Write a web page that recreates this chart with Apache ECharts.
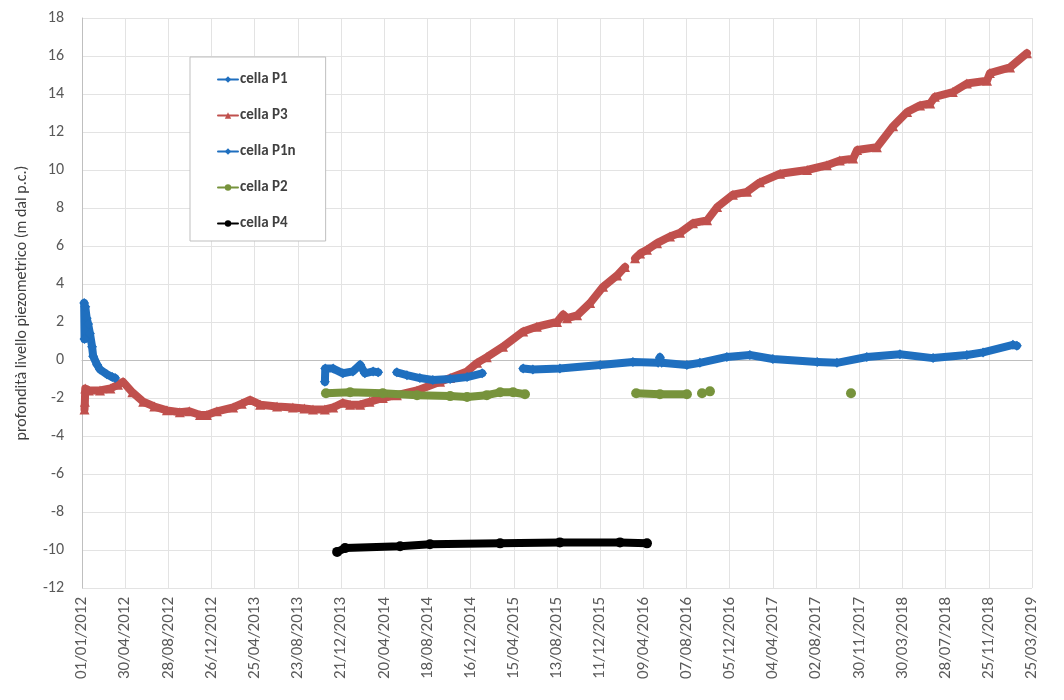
<!DOCTYPE html>
<html>
<head>
<meta charset="utf-8">
<script src="https://cdn.jsdelivr.net/npm/echarts@6/dist/echarts.min.js"></script>
<style>
html,body{margin:0;padding:0;background:#fff;}
#chart{width:1064px;height:700px;}
</style>
</head>
<body>
<div id="chart"></div>
<script>
// ---- data (date, value) ----
const seriesNames = ["cella P1", "cella P3", "cella P1n", "cella P2", "cella P4"];

const cellaP1 = [
  ["2012-01-07", 3.0], ["2012-01-08", 1.1], ["2012-01-10", 2.8], ["2012-01-14", 2.2],
  ["2012-01-18", 1.9], ["2012-01-23", 1.4], ["2012-01-29", 0.7], ["2012-02-01", 0.2],
  ["2012-02-12", -0.25], ["2012-02-20", -0.5], ["2012-03-10", -0.75], ["2012-03-25", -0.9],
  ["2012-04-02", -0.95]
];

const cellaP3 = [
  ["2012-01-08", -2.6], ["2012-01-09", -2.2], ["2012-01-10", -1.5], ["2012-01-20", -1.6],
  ["2012-02-20", -1.6], ["2012-03-20", -1.5], ["2012-04-10", -1.3], ["2012-04-24", -1.15],
  ["2012-05-20", -1.7], ["2012-06-19", -2.2], ["2012-07-20", -2.45], ["2012-08-24", -2.65],
  ["2012-09-29", -2.75], ["2012-10-25", -2.7], ["2012-11-24", -2.9], ["2012-12-13", -2.9],
  ["2013-01-10", -2.7], ["2013-02-24", -2.5], ["2013-03-20", -2.3], ["2013-04-12", -2.1],
  ["2013-05-10", -2.35], ["2013-06-26", -2.45], ["2013-08-09", -2.5], ["2013-09-10", -2.55],
  ["2013-10-04", -2.6], ["2013-11-06", -2.6], ["2013-11-29", -2.5], ["2013-12-26", -2.25],
  ["2014-01-15", -2.35], ["2014-02-12", -2.35], ["2014-03-10", -2.2], ["2014-04-16", -2.0],
  ["2014-05-25", -1.85], ["2014-07-20", -1.6], ["2014-09-22", -1.15], ["2014-10-20", -0.95],
  ["2014-12-06", -0.6], ["2015-01-03", -0.15], ["2015-01-30", 0.15], ["2015-03-16", 0.7],
  ["2015-05-11", 1.5], ["2015-06-18", 1.75], ["2015-08-13", 2.0], ["2015-08-30", 2.4],
  ["2015-09-10", 2.2], ["2015-10-08", 2.35], ["2015-11-13", 3.0], ["2015-12-19", 3.85],
  ["2016-01-27", 4.45], ["2016-02-18", 4.9], ["2016-03-05", null], ["2016-03-17", 5.35],
  ["2016-03-31", 5.6], ["2016-04-19", 5.8], ["2016-05-17", 6.15], ["2016-06-22", 6.5],
  ["2016-07-20", 6.7], ["2016-08-25", 7.2], ["2016-10-03", 7.35], ["2016-10-31", 8.05],
  ["2016-12-14", 8.7], ["2017-01-22", 8.85], ["2017-02-27", 9.35], ["2017-04-24", 9.8],
  ["2017-07-08", 10.0], ["2017-09-01", 10.25], ["2017-10-07", 10.5], ["2017-11-13", 10.6],
  ["2017-11-24", 11.05], ["2018-01-18", 11.2], ["2018-03-04", 12.3], ["2018-04-12", 13.05],
  ["2018-05-18", 13.4], ["2018-06-15", 13.5], ["2018-06-28", 13.85], ["2018-08-17", 14.1],
  ["2018-09-25", 14.55], ["2018-11-20", 14.7], ["2018-11-28", 15.1], ["2019-01-23", 15.4],
  ["2019-03-11", 16.15]
];

const cellaP1n = [
  ["2013-11-06", -1.15], ["2013-11-07", -0.45], ["2013-11-29", -0.45], ["2013-12-26", -0.7],
  ["2014-01-23", -0.6], ["2014-02-12", -0.25], ["2014-02-25", -0.7], ["2014-03-20", -0.6],
  ["2014-04-03", -0.65], ["2014-04-20", null],
  ["2014-05-25", -0.65], ["2014-06-22", -0.8], ["2014-07-28", -0.95], ["2014-09-02", -1.05],
  ["2014-10-20", -1.0], ["2014-12-06", -0.9], ["2015-01-17", -0.7], ["2015-03-15", null],
  ["2015-05-11", -0.45], ["2015-06-07", -0.5], ["2015-08-21", -0.45], ["2015-12-11", -0.26],
  ["2016-03-11", -0.1], ["2016-05-20", -0.15], ["2016-05-25", 0.15], ["2016-05-30", -0.15],
  ["2016-08-08", -0.26], ["2016-09-13", -0.15], ["2016-11-27", 0.16], ["2017-01-30", 0.26],
  ["2017-04-04", 0.05], ["2017-08-05", -0.1], ["2017-09-29", -0.15], ["2017-12-21", 0.16],
  ["2018-03-23", 0.3], ["2018-06-23", 0.1], ["2018-09-25", 0.26], ["2018-11-09", 0.4],
  ["2019-01-31", 0.8], ["2019-02-11", 0.75]
];

const cellaP2 = [
  ["2013-11-09", -1.75], ["2014-01-15", -1.7], ["2014-04-16", -1.75], ["2014-07-20", -1.85],
  ["2014-10-20", -1.9], ["2014-12-06", -1.95], ["2015-01-30", -1.85], ["2015-03-08", -1.7],
  ["2015-04-13", -1.7], ["2015-05-16", -1.8], ["2015-09-01", null],
  ["2016-03-20", -1.75], ["2016-05-25", -1.8], ["2016-08-08", -1.8], ["2016-08-25", null],
  ["2016-09-19", -1.75], ["2016-09-30", null], ["2016-10-11", -1.65], ["2016-10-25", null],
  ["2017-11-07", -1.75]
];

const cellaP4 = [
  ["2013-12-10", -10.1], ["2014-01-01", -9.9], ["2014-06-03", -9.8], ["2014-08-25", -9.7],
  ["2015-03-08", -9.65], ["2015-08-21", -9.6], ["2016-02-04", -9.6], ["2016-04-19", -9.65]
];

const seriesColors = ["#1f6fbf", "#c0504d", "#1f6fbf", "#77933c", "#000000"];
const seriesSymbols = ["diamond", "triangle", "diamond", "circle", "circle"];
const seriesData = [cellaP1, cellaP3, cellaP1n, cellaP2, cellaP4];

// axis: days since 01/01/2012, ticks every 120 days
const xStepDays = 120;
const xMaxDays = 2640;
const yMin = -12, yMax = 18, yStep = 2;

const DAY = 86400000;
const base = Date.UTC(2012, 0, 1);
function toDays(s) {
  const p = s.split("-").map(Number);
  return Math.round((Date.UTC(p[0], p[1] - 1, p[2]) - base) / DAY);
}
function fmt(d) {
  const t = new Date(base + d * DAY);
  const dd = String(t.getUTCDate()).padStart(2, "0");
  const mm = String(t.getUTCMonth() + 1).padStart(2, "0");
  return dd + "/" + mm + "/" + t.getUTCFullYear();
}

const chart = echarts.init(document.getElementById("chart"), null, {renderer: "canvas"});
const font = "Carlito, Lato, 'Open Sans', sans-serif";

chart.setOption({
  animation: false,
  backgroundColor: "#ffffff",
  textStyle: {fontFamily: font},
  grid: {left: 82, right: 32, top: 18, bottom: 112, containLabel: false},
  legend: {
    orient: "vertical",
    left: 190, top: 57,
    padding: [15, 30, 10, 27],
    itemGap: 21,
    itemWidth: 20, itemHeight: 8,
    backgroundColor: "#ffffff",
    borderColor: "#bfbfbf", borderWidth: 1,
    textStyle: {fontFamily: font, fontSize: 15, fontWeight: "bold", color: "#404040", padding: [0,0,0,-3]},
    data: seriesNames
  },
  xAxis: {
    type: "value",
    min: 0, max: xMaxDays, interval: xStepDays,
    axisLine: {show: true, lineStyle: {color: "#bfbfbf"}},
    axisTick: {show: false},
    splitLine: {show: true, lineStyle: {color: "#e3e3e3"}},
    axisLabel: {
      rotate: 90, fontSize: 17, color: "#595959", margin: 9,
      fontFamily: font,
      formatter: v => fmt(v)
    }
  },
  yAxis: {
    type: "value",
    min: yMin, max: yMax, interval: yStep,
    name: "profondità livello piezometrico (m dal p.c.)",
    nameLocation: "middle", nameGap: 52,
    nameTextStyle: {fontSize: 16, color: "#404040", fontFamily: font},
    axisLine: {show: true, lineStyle: {color: "#bfbfbf"}},
    axisTick: {show: false},
    splitLine: {show: true, lineStyle: {color: "#e3e3e3"}},
    axisLabel: {fontSize: 16, color: "#595959", margin: 18, fontFamily: font}
  },
  series: seriesNames.map((n, i) => ({
    name: n,
    type: "line",
    data: seriesData[i].map(p => [toDays(p[0]), p[1]]),
    connectNulls: false,
    showSymbol: true,
    showAllSymbol: true,
    symbol: seriesSymbols[i],
    symbolSize: 10,
    lineStyle: {width: 8, color: seriesColors[i], cap: "round", join: "round"},
    itemStyle: {color: seriesColors[i], borderWidth: 0},
    emphasis: {disabled: true},
    z: i === 1 ? 2 : 3
  }))
});
</script>
</body>
</html>
